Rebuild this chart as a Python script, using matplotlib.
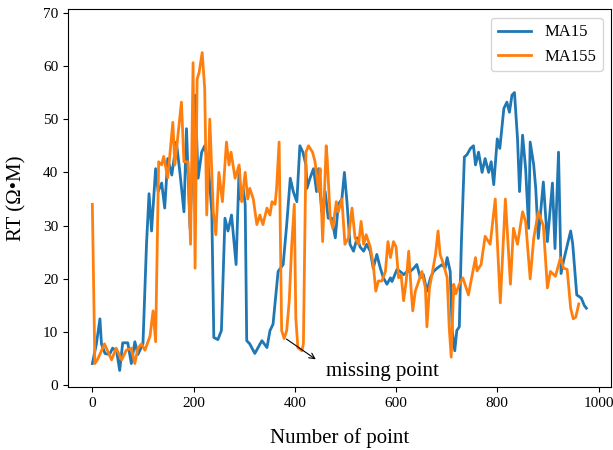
import matplotlib
matplotlib.use('Agg')
import matplotlib.pyplot as plt

plt.rcParams['font.family'] = ['Liberation Serif', 'DejaVu Serif']

# MA15 series (point index, RT)
ma15_x = [0, 8, 15, 18, 25, 34, 40, 48, 54, 60, 70, 77, 84, 90, 100, 107, 112, 117, 125,
          130, 137, 143, 149, 157, 166, 173, 181, 186, 193, 203, 209, 216, 222, 229, 236,
          240, 248, 255, 262, 268, 275, 284, 290, 292, 298, 302, 305, 311, 321, 335, 345,
          351, 357, 367, 377, 384, 391, 397, 404, 410, 416, 422, 424, 430, 437, 443, 447,
          453, 460, 466, 473, 480, 486, 493, 498, 503, 509, 516, 523, 529, 536, 542, 549,
          555, 562, 569, 575, 582, 589, 592, 602, 608, 615, 622, 628, 635, 641, 648, 654,
          661, 668, 674, 681, 691, 697, 701, 707, 711, 716, 720, 725, 729, 735, 740, 747,
          753, 757, 763, 770, 776, 783, 788, 793, 800, 805, 813, 819, 824, 829, 834, 840,
          844, 850, 856, 862, 865, 872, 876, 881, 891, 899, 909, 914, 921, 926, 931, 945,
          949, 957, 966, 972, 976]
ma15_y = [4.1, 7.8, 12.5, 7.8, 6.0, 5.8, 7.0, 6.4, 2.8, 8.0, 8.0, 4.1, 8.2, 5.8, 7.8, 26.5,
          36.0, 29.0, 40.7, 36.4, 38.0, 33.3, 42.6, 39.5, 45.7, 40.0, 32.6, 48.2, 29.5, 54.5,
          38.9, 43.8, 45.0, 41.4, 32.6, 9.0, 8.6, 10.3, 31.4, 29.0, 32.0, 22.7, 40.7, 35.0,
          37.0, 34.0, 8.4, 7.8, 6.0, 8.4, 7.1, 10.3, 11.5, 21.4, 22.7, 30.2, 38.9, 36.4,
          34.5, 45.0, 43.8, 41.4, 37.0, 38.9, 40.7, 36.4, 40.7, 32.6, 36.4, 31.4, 31.4, 27.7,
          34.0, 35.0, 40.0, 34.5, 26.5, 25.2, 27.7, 26.0, 25.2, 26.5, 25.2, 22.0, 24.6, 22.0,
          20.2, 19.0, 20.2, 19.5, 21.8, 21.4, 20.8, 21.4, 21.4, 22.0, 22.7, 20.2, 20.8, 17.7,
          20.2, 21.4, 22.0, 22.7, 22.0, 24.0, 21.4, 10.3, 6.5, 10.3, 11.0, 26.5, 42.9, 43.3,
          44.5, 45.0, 41.4, 43.8, 40.0, 42.6, 40.0, 42.0, 37.7, 46.3, 44.5, 52.0, 53.2, 51.3,
          54.5, 55.0, 46.3, 36.4, 47.0, 40.7, 29.5, 45.7, 41.4, 37.0, 27.6, 38.2, 27.0, 38.0,
          25.7, 43.8, 21.0, 23.4, 29.0, 26.6, 17.0, 16.4, 15.0, 14.5]

# MA155 series (point index, RT)
ma155_x = [0, 5, 11, 24, 38, 47, 58, 67, 77, 84, 90, 97, 104, 114, 120, 125, 131, 137,
           141, 149, 159, 163, 167, 176, 181, 189, 194, 199, 203, 207, 211, 217, 222, 226,
           232, 239, 244, 250, 257, 265, 270, 274, 282, 290, 295, 302, 307, 311, 318, 325,
           331, 337, 345, 351, 355, 361, 364, 369, 374, 379, 384, 389, 394, 399, 402, 406,
           414, 417, 422, 427, 435, 440, 447, 450, 455, 462, 464, 470, 475, 482, 486, 493,
           499, 506, 513, 519, 526, 531, 536, 541, 549, 555, 560, 565, 572, 579, 584, 589,
           595, 600, 605, 610, 615, 620, 625, 630, 633, 638, 645, 651, 658, 661, 666, 671,
           678, 683, 687, 694, 701, 705, 709, 714, 718, 725, 732, 743, 757, 760, 768, 776,
           786, 796, 806, 816, 826, 832, 840, 850, 856, 865, 872, 881, 891, 899, 905, 915,
           925, 931, 938, 945, 950, 955, 961]
ma155_y = [34.0, 4.1, 5.0, 7.8, 4.8, 7.0, 4.8, 6.6, 7.0, 4.1, 7.0, 7.8, 6.6, 9.3, 14.0, 8.2,
           42.0, 41.4, 43.0, 39.0, 49.4, 41.4, 45.0, 53.2, 42.0, 42.0, 26.5, 60.6, 22.0, 57.5,
           58.8, 62.5, 55.7, 32.0, 50.0, 32.6, 28.3, 40.0, 34.5, 45.7, 41.4, 43.8, 38.9, 41.4,
           34.5, 40.0, 35.0, 37.0, 35.0, 30.2, 32.0, 30.2, 33.3, 32.0, 34.5, 34.0, 37.0, 45.7,
           10.3, 8.8, 10.3, 15.9, 26.5, 34.0, 12.7, 7.1, 6.5, 7.8, 43.8, 45.0, 43.8, 42.0,
           36.4, 40.7, 27.0, 45.0, 42.6, 31.4, 29.5, 34.5, 32.6, 35.0, 26.5, 27.7, 33.3, 27.7,
           26.5, 30.8, 26.5, 28.3, 26.0, 22.7, 17.7, 19.6, 19.6, 21.4, 27.0, 24.0, 27.0, 26.0,
           20.2, 20.8, 15.9, 19.6, 25.2, 17.7, 14.0, 17.7, 19.6, 21.4, 18.3, 11.0, 18.3, 20.8,
           24.6, 29.0, 24.6, 22.7, 20.2, 11.0, 5.3, 19.0, 17.2, 19.0, 20.2, 17.0, 24.0, 21.5,
           22.7, 28.0, 26.5, 35.0, 15.5, 35.0, 19.0, 29.5, 26.5, 32.6, 30.8, 20.0, 27.6, 32.6,
           30.0, 18.3, 21.4, 20.5, 24.0, 22.0, 21.8, 14.5, 12.5, 12.8, 15.3]

fig = plt.figure(figsize=(6.13, 4.5), dpi=100)
ax = fig.add_axes([0.111, 0.14, 0.886, 0.839])

ax.plot(ma15_x, ma15_y, color='#1f77b4', lw=2, label='MA15')
ax.plot(ma155_x, ma155_y, color='#ff7f0e', lw=2, label='MA155')

# arrow from the missing point down to the text
ax.annotate('', xy=(446, 4.6), xytext=(379, 9.0),
            arrowprops=dict(arrowstyle='->', color='k', lw=0.8))
ax.text(573, 2.6, 'missing point', fontsize=15, ha='center', va='center')

ax.set_xlim(-48, 1025)
ax.set_ylim(-0.3, 70.6)
ax.set_xticks([0, 200, 400, 600, 800, 1000])
ax.set_yticks([0, 10, 20, 30, 40, 50, 60, 70])
ax.tick_params(labelsize=11)
ax.set_xlabel('Number of point', fontsize=15)
ax.set_ylabel('RT (Ω•M)', fontsize=15)
ax.xaxis.set_label_coords(0.5, -0.108)
ax.yaxis.set_label_coords(-0.076, 0.5)
ax.legend(loc='upper right', fontsize=12)

fig.savefig('out.png', dpi=100)
